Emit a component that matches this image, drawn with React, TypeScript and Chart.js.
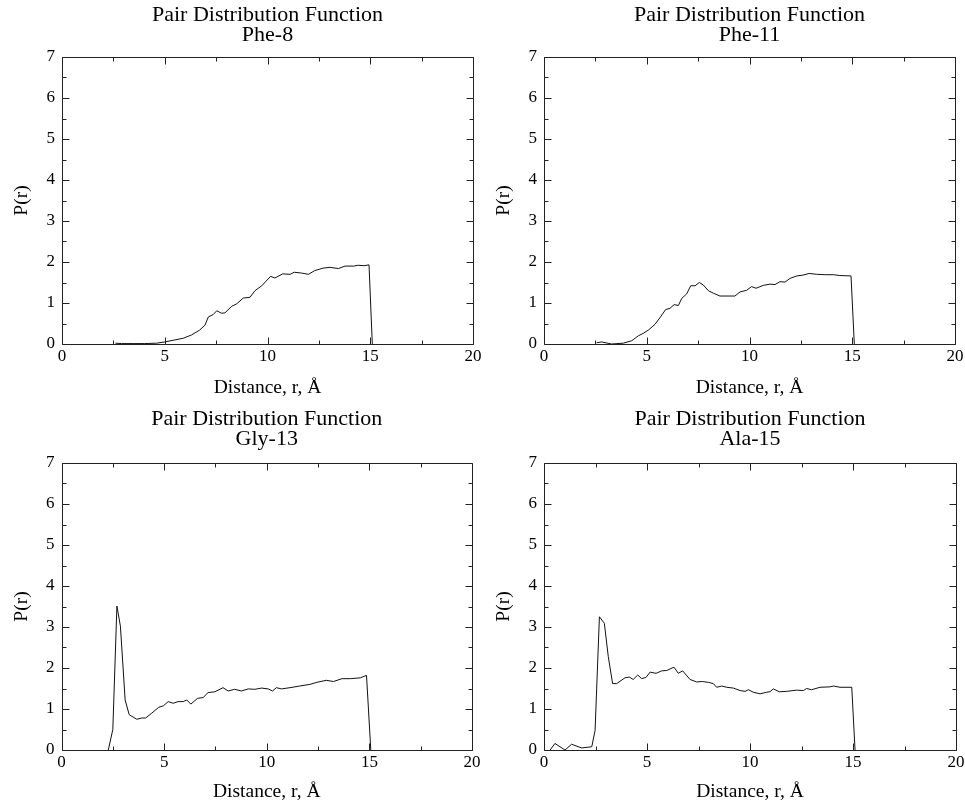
import React, { useEffect, useRef } from 'react';
import { Chart, registerables } from 'chart.js';

Chart.register(...registerables);

// ---------- data ----------
const titleMain = 'Pair Distribution Function';
const residues = ['Phe-8', 'Phe-11', 'Gly-13', 'Ala-15'];
const xAxisTitle = 'Distance, r, Å';
const yAxisTitle = 'P(r)';
const xMin = 0, xMax = 20, xMajor = 5, xMinor = 2.5;
const yMin = 0, yMax = 7, yMajor = 1, yMinor = 0.5;

const phe8R = [2.6, 2.9, 3.5, 4.0, 4.6, 5.0, 5.5, 5.9, 6.3, 6.7, 6.96, 7.12, 7.36, 7.53, 7.77, 7.93, 8.26, 8.5, 8.82, 9.15, 9.39, 9.72, 10.15, 10.36, 10.74, 11.1, 11.3, 11.66, 11.99, 12.3, 12.7, 13.04, 13.45, 13.77, 14.2, 14.4, 14.7, 14.94, 15.1];
const phe8P = [0.02, 0.01, 0.01, 0.01, 0.02, 0.05, 0.1, 0.14, 0.22, 0.34, 0.46, 0.66, 0.72, 0.81, 0.75, 0.76, 0.92, 0.98, 1.12, 1.14, 1.3, 1.42, 1.65, 1.61, 1.71, 1.70, 1.75, 1.73, 1.70, 1.79, 1.85, 1.87, 1.84, 1.90, 1.90, 1.92, 1.91, 1.93, 0];

const phe11R = [2.56, 2.8, 3.29, 3.86, 4.27, 4.59, 4.83, 5.08, 5.4, 5.64, 5.92, 6.13, 6.33, 6.54, 6.7, 6.94, 7.14, 7.35, 7.56, 7.75, 8.0, 8.24, 8.56, 9.29, 9.54, 9.86, 10.1, 10.32, 10.67, 11.0, 11.24, 11.48, 11.73, 11.97, 12.3, 12.6, 12.9, 13.27, 13.67, 14.08, 14.4, 14.94, 15.1];
const phe11P = [0.03, 0.05, 0.0, 0.02, 0.08, 0.2, 0.26, 0.34, 0.48, 0.64, 0.84, 0.87, 0.96, 0.94, 1.11, 1.22, 1.42, 1.42, 1.5, 1.44, 1.3, 1.24, 1.17, 1.17, 1.27, 1.31, 1.4, 1.36, 1.43, 1.46, 1.45, 1.52, 1.51, 1.6, 1.66, 1.68, 1.72, 1.7, 1.69, 1.69, 1.67, 1.66, 0];

const gly13R = [2.28, 2.5, 2.7, 2.87, 3.1, 3.3, 3.67, 3.9, 4.1, 4.4, 4.73, 4.97, 5.2, 5.44, 5.68, 5.93, 6.1, 6.3, 6.63, 6.9, 7.14, 7.47, 7.87, 8.12, 8.44, 8.77, 9.1, 9.42, 9.75, 10.07, 10.28, 10.47, 10.72, 11.13, 11.6, 12.1, 12.44, 12.9, 13.25, 13.67, 14.07, 14.56, 14.86, 15.07];
const gly13P = [0, 0.5, 3.51, 3.02, 1.22, 0.86, 0.75, 0.78, 0.78, 0.9, 1.04, 1.08, 1.18, 1.14, 1.18, 1.18, 1.22, 1.12, 1.26, 1.28, 1.4, 1.42, 1.52, 1.44, 1.48, 1.44, 1.49, 1.48, 1.51, 1.49, 1.44, 1.52, 1.49, 1.52, 1.56, 1.6, 1.65, 1.7, 1.67, 1.74, 1.74, 1.76, 1.82, 0];

const ala15R = [0.3, 0.53, 1.02, 1.34, 1.83, 2.32, 2.48, 2.69, 2.93, 3.12, 3.33, 3.53, 3.93, 4.14, 4.33, 4.55, 4.74, 4.95, 5.15, 5.44, 5.71, 5.96, 6.31, 6.52, 6.73, 7.09, 7.41, 7.68, 7.98, 8.22, 8.38, 8.63, 8.87, 9.19, 9.52, 9.76, 9.92, 10.16, 10.49, 10.81, 10.97, 11.13, 11.42, 11.78, 12.27, 12.59, 12.75, 12.99, 13.4, 13.88, 14.05, 14.37, 14.94, 15.1];
const ala15P = [0, 0.16, 0, 0.14, 0.05, 0.08, 0.48, 3.25, 3.09, 2.28, 1.62, 1.62, 1.76, 1.78, 1.72, 1.83, 1.74, 1.77, 1.9, 1.87, 1.93, 1.94, 2.02, 1.87, 1.93, 1.72, 1.66, 1.67, 1.65, 1.62, 1.53, 1.56, 1.53, 1.51, 1.45, 1.43, 1.47, 1.41, 1.37, 1.41, 1.42, 1.49, 1.42, 1.43, 1.46, 1.45, 1.5, 1.47, 1.53, 1.54, 1.56, 1.53, 1.53, 0];

const seriesR = [phe8R, phe11R, gly13R, ala15R];
const seriesP = [phe8P, phe11P, gly13P, ala15P];

// ---------- layout ----------
const FONT = "'Liberation Serif', 'Times New Roman', 'DejaVu Serif', serif";
const panels = [
  { left: 0, top: 0, w: 482, h: 400, L: 62, R: 473, T: 57, B: 344, t1: 15 },
  { left: 482, top: 0, w: 483, h: 400, L: 62, R: 473, T: 57, B: 344, t1: 15 },
  { left: 0, top: 398, w: 482, h: 404, L: 61.5, R: 472, T: 65, B: 352, t1: 21 },
  { left: 482, top: 398, w: 483, h: 404, L: 62, R: 474, T: 65, B: 352, t1: 21 },
];

const TITLE_SIZE = 22, TITLE_LH = 20;
const TICK_SIZE = 17;
const AXT_SIZE = 19.5;

const framePlugin = {
  id: 'frameTicks',
  afterDatasetsDraw(chart: any) {
    const { ctx, chartArea: a, scales } = chart;
    const xs = scales.x, ys = scales.y;
    const l = Math.round(a.left) + 0.5, r = Math.round(a.right) + 0.5;
    const t = Math.round(a.top) + 0.5, b = Math.round(a.bottom) + 0.5;
    ctx.save();
    ctx.strokeStyle = '#222';
    ctx.lineWidth = 1;
    ctx.beginPath();
    ctx.rect(l, t, r - l, b - t);
    for (let v = xMin; v <= xMax + 1e-9; v += xMinor) {
      const len = Math.abs(v / xMajor - Math.round(v / xMajor)) < 1e-6 ? 7 : 4;
      const px = Math.round(xs.getPixelForValue(v)) + 0.5;
      ctx.moveTo(px, b); ctx.lineTo(px, b - len);
      ctx.moveTo(px, t); ctx.lineTo(px, t + len);
    }
    for (let v = yMin; v <= yMax + 1e-9; v += yMinor) {
      const len = Math.abs(v / yMajor - Math.round(v / yMajor)) < 1e-6 ? 7 : 4;
      const py = Math.round(ys.getPixelForValue(v)) + 0.5;
      ctx.moveTo(l, py); ctx.lineTo(l + len, py);
      ctx.moveTo(r, py); ctx.lineTo(r - len, py);
    }
    ctx.stroke();
    ctx.restore();
  },
};

function Panel({ idx }: { idx: number }) {
  const ref = useRef<HTMLCanvasElement>(null);
  const p = panels[idx];
  useEffect(() => {
    const canvas = ref.current!;
    const data = seriesR[idx].map((r, i) => ({ x: r, y: seriesP[idx][i] }));
    const titlePadTop = p.t1 - TITLE_LH / 2;
    const titlePadBottom = p.T - titlePadTop - 2 * TITLE_LH;
    const xTickCenter = 13;
    const xTitleCenter = p.B + 44;
    const chart = new Chart(canvas, {
      type: 'line',
      data: {
        datasets: [{
          data,
          borderColor: '#111',
          borderWidth: 1,
          pointRadius: 0,
          tension: 0,
          fill: false,
        }],
      },
      options: {
        animation: false,
        responsive: false,
        maintainAspectRatio: false,
        devicePixelRatio: 1,
        layout: { padding: { left: 0, right: p.w - p.R, top: 0, bottom: 0 }, autoPadding: false },
        plugins: {
          legend: { display: false },
          tooltip: { enabled: false },
          title: {
            display: true,
            fullSize: false,
            text: [titleMain, residues[idx]],
            color: '#000',
            font: { family: FONT, size: TITLE_SIZE, weight: 'normal', lineHeight: TITLE_LH / TITLE_SIZE },
            padding: { top: titlePadTop, bottom: titlePadBottom },
          },
        },
        scales: {
          x: {
            type: 'linear',
            min: xMin,
            max: xMax,
            grid: { display: false, drawTicks: false },
            border: { display: false },
            ticks: {
              stepSize: xMajor,
              autoSkip: false,
              maxRotation: 0,
              color: '#000',
              padding: xTickCenter - TICK_SIZE / 2,
              font: { family: FONT, size: TICK_SIZE, lineHeight: 1 },
            },
            title: {
              display: true,
              text: xAxisTitle,
              color: '#000',
              font: { family: FONT, size: AXT_SIZE, lineHeight: 1 },
              padding: { top: 0, bottom: Math.max(0, p.h - xTitleCenter - AXT_SIZE / 2) },
            },
            afterFit: (s: any) => {
              s.height = p.h - p.B;
              s.paddingLeft = 0;
              s.paddingRight = 0;
            },
          },
          y: {
            type: 'linear',
            min: yMin,
            max: yMax,
            grid: { display: false, drawTicks: false },
            border: { display: false },
            ticks: {
              stepSize: yMajor,
              autoSkip: false,
              color: '#000',
              padding: 7,
              font: { family: FONT, size: TICK_SIZE, lineHeight: 1 },
            },
            title: {
              display: true,
              text: yAxisTitle,
              color: '#000',
              font: { family: FONT, size: AXT_SIZE, lineHeight: 1 },
              padding: { top: 22 - AXT_SIZE / 2, bottom: 0 },
            },
            afterFit: (s: any) => {
              s.width = p.L;
              s.paddingTop = 0;
              s.paddingBottom = 0;
            },
          },
        },
      },
      plugins: [framePlugin],
    } as any);
    return () => chart.destroy();
  }, [idx]);
  return (
    <canvas
      ref={ref}
      width={p.w}
      height={p.h}
      style={{ position: 'absolute', left: p.left, top: p.top, width: p.w, height: p.h }}
    />
  );
}

export default function App() {
  return (
    <div style={{ position: 'absolute', left: 0, top: 0, width: 965, height: 802, background: '#fff', overflow: 'hidden' }}>
      {panels.map((_, i) => <Panel key={i} idx={i} />)}
    </div>
  );
}
